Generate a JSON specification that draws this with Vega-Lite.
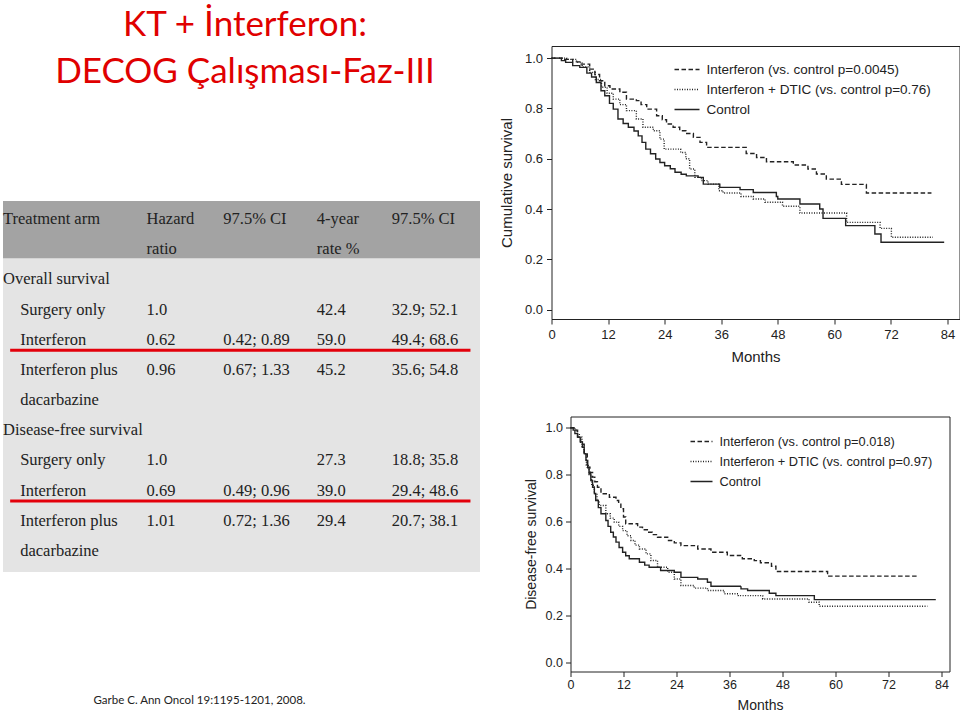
{
  "$schema": "https://vega.github.io/schema/vega-lite/v6.json",
  "background": "white",
  "padding": {"left": 3, "top": 7, "right": 0, "bottom": 0},
  "config": {"view": {"stroke": null}, "font": "Liberation Sans"},
  "title": {"text": ["KT + İnterferon:", "DECOG Çalışması-Faz-III"], "font": "Lato", "fontSize": 35, "fontWeight": "normal", "color": "#e00000", "lineHeight": 47, "anchor": "start", "align": "center", "dx": 242, "offset": -44},
  "datasets": {
    "table": [
      {"row": 0, "level": "header", "arm": "Treatment arm", "hr": "Hazard", "ci": "97.5% CI", "rate": "4-year", "ci2": "97.5% CI"},
      {"row": 1, "level": "header", "arm": "", "hr": "ratio", "ci": "", "rate": "rate %", "ci2": ""},
      {"row": 2, "level": "section", "arm": "Overall survival", "hr": "", "ci": "", "rate": "", "ci2": ""},
      {"row": 3, "level": "item", "arm": "Surgery only", "hr": "1.0", "ci": "", "rate": "42.4", "ci2": "32.9; 52.1"},
      {"row": 4, "level": "item", "arm": "Interferon", "hr": "0.62", "ci": "0.42; 0.89", "rate": "59.0", "ci2": "49.4; 68.6"},
      {"row": 5, "level": "item", "arm": "Interferon plus", "hr": "0.96", "ci": "0.67; 1.33", "rate": "45.2", "ci2": "35.6; 54.8"},
      {"row": 6, "level": "item", "arm": "dacarbazine", "hr": "", "ci": "", "rate": "", "ci2": ""},
      {"row": 7, "level": "section", "arm": "Disease-free survival", "hr": "", "ci": "", "rate": "", "ci2": ""},
      {"row": 8, "level": "item", "arm": "Surgery only", "hr": "1.0", "ci": "", "rate": "27.3", "ci2": "18.8; 35.8"},
      {"row": 9, "level": "item", "arm": "Interferon", "hr": "0.69", "ci": "0.49; 0.96", "rate": "39.0", "ci2": "29.4; 48.6"},
      {"row": 10, "level": "item", "arm": "Interferon plus", "hr": "1.01", "ci": "0.72; 1.36", "rate": "29.4", "ci2": "20.7; 38.1"},
      {"row": 11, "level": "item", "arm": "dacarbazine", "hr": "", "ci": "", "rate": "", "ci2": ""}
    ],
    "os": [
      {"arm": "Control", "month": 0, "surv": 1.0},
      {"arm": "Control", "month": 2.1, "surv": 0.99},
      {"arm": "Control", "month": 3.0, "surv": 0.983},
      {"arm": "Control", "month": 4.5, "surv": 0.97},
      {"arm": "Control", "month": 6.0, "surv": 0.963},
      {"arm": "Control", "month": 7.5, "surv": 0.94},
      {"arm": "Control", "month": 8.5, "surv": 0.925},
      {"arm": "Control", "month": 9.5, "surv": 0.903},
      {"arm": "Control", "month": 10.5, "surv": 0.87},
      {"arm": "Control", "month": 11.3, "surv": 0.85},
      {"arm": "Control", "month": 12.3, "surv": 0.82},
      {"arm": "Control", "month": 13.1, "surv": 0.797},
      {"arm": "Control", "month": 14.1, "surv": 0.758},
      {"arm": "Control", "month": 15.2, "surv": 0.74},
      {"arm": "Control", "month": 16.3, "surv": 0.725},
      {"arm": "Control", "month": 17.5, "surv": 0.71},
      {"arm": "Control", "month": 18.4, "surv": 0.691},
      {"arm": "Control", "month": 19.2, "surv": 0.665},
      {"arm": "Control", "month": 20.0, "surv": 0.638},
      {"arm": "Control", "month": 21.0, "surv": 0.62},
      {"arm": "Control", "month": 22.1, "surv": 0.599},
      {"arm": "Control", "month": 23.0, "surv": 0.585},
      {"arm": "Control", "month": 24.0, "surv": 0.572},
      {"arm": "Control", "month": 25.2, "surv": 0.56},
      {"arm": "Control", "month": 26.2, "surv": 0.546},
      {"arm": "Control", "month": 27.5, "surv": 0.538},
      {"arm": "Control", "month": 28.6, "surv": 0.532},
      {"arm": "Control", "month": 31.1, "surv": 0.526},
      {"arm": "Control", "month": 32.2, "surv": 0.499},
      {"arm": "Control", "month": 35.7, "surv": 0.486},
      {"arm": "Control", "month": 40.0, "surv": 0.477},
      {"arm": "Control", "month": 42.8, "surv": 0.466},
      {"arm": "Control", "month": 47.7, "surv": 0.45},
      {"arm": "Control", "month": 48.0, "surv": 0.44},
      {"arm": "Control", "month": 52.7, "surv": 0.42},
      {"arm": "Control", "month": 56.9, "surv": 0.40},
      {"arm": "Control", "month": 57.6, "surv": 0.363},
      {"arm": "Control", "month": 62.4, "surv": 0.334},
      {"arm": "Control", "month": 68.6, "surv": 0.301},
      {"arm": "Control", "month": 69.9, "surv": 0.268},
      {"arm": "Control", "month": 83.3, "surv": 0.268},
      {"arm": "Interferon", "month": 0, "surv": 1.0},
      {"arm": "Interferon", "month": 2.8, "surv": 0.995},
      {"arm": "Interferon", "month": 4.5, "surv": 0.985},
      {"arm": "Interferon", "month": 6.0, "surv": 0.976},
      {"arm": "Interferon", "month": 8.1, "surv": 0.956},
      {"arm": "Interferon", "month": 9.2, "surv": 0.935},
      {"arm": "Interferon", "month": 10.2, "surv": 0.91},
      {"arm": "Interferon", "month": 11.3, "surv": 0.89},
      {"arm": "Interferon", "month": 12.4, "surv": 0.877},
      {"arm": "Interferon", "month": 14.5, "surv": 0.864},
      {"arm": "Interferon", "month": 15.9, "surv": 0.837},
      {"arm": "Interferon", "month": 18.0, "surv": 0.831},
      {"arm": "Interferon", "month": 19.0, "surv": 0.815},
      {"arm": "Interferon", "month": 20.2, "surv": 0.797},
      {"arm": "Interferon", "month": 22.3, "surv": 0.771},
      {"arm": "Interferon", "month": 23.5, "surv": 0.755},
      {"arm": "Interferon", "month": 24.4, "surv": 0.738},
      {"arm": "Interferon", "month": 25.8, "surv": 0.725},
      {"arm": "Interferon", "month": 27.2, "surv": 0.711},
      {"arm": "Interferon", "month": 28.5, "surv": 0.70},
      {"arm": "Interferon", "month": 30.1, "surv": 0.685},
      {"arm": "Interferon", "month": 31.5, "surv": 0.665},
      {"arm": "Interferon", "month": 32.9, "surv": 0.645},
      {"arm": "Interferon", "month": 41.3, "surv": 0.621},
      {"arm": "Interferon", "month": 43.5, "surv": 0.605},
      {"arm": "Interferon", "month": 45.6, "surv": 0.588},
      {"arm": "Interferon", "month": 51.3, "surv": 0.575},
      {"arm": "Interferon", "month": 54.4, "surv": 0.559},
      {"arm": "Interferon", "month": 56.2, "surv": 0.539},
      {"arm": "Interferon", "month": 58.3, "surv": 0.519},
      {"arm": "Interferon", "month": 61.5, "surv": 0.498},
      {"arm": "Interferon", "month": 66.8, "surv": 0.464},
      {"arm": "Interferon", "month": 80.6, "surv": 0.464},
      {"arm": "Interferon + DTIC", "month": 0, "surv": 1.0},
      {"arm": "Interferon + DTIC", "month": 3.2, "surv": 0.995},
      {"arm": "Interferon + DTIC", "month": 5.3, "surv": 0.983},
      {"arm": "Interferon + DTIC", "month": 6.5, "surv": 0.965},
      {"arm": "Interferon + DTIC", "month": 8.1, "surv": 0.943},
      {"arm": "Interferon + DTIC", "month": 9.3, "surv": 0.915},
      {"arm": "Interferon + DTIC", "month": 10.6, "surv": 0.884},
      {"arm": "Interferon + DTIC", "month": 11.8, "surv": 0.86},
      {"arm": "Interferon + DTIC", "month": 13.1, "surv": 0.837},
      {"arm": "Interferon + DTIC", "month": 14.5, "surv": 0.815},
      {"arm": "Interferon + DTIC", "month": 15.9, "surv": 0.791},
      {"arm": "Interferon + DTIC", "month": 18.0, "surv": 0.758},
      {"arm": "Interferon + DTIC", "month": 19.4, "surv": 0.725},
      {"arm": "Interferon + DTIC", "month": 21.6, "surv": 0.711},
      {"arm": "Interferon + DTIC", "month": 23.0, "surv": 0.678},
      {"arm": "Interferon + DTIC", "month": 23.9, "surv": 0.638},
      {"arm": "Interferon + DTIC", "month": 27.4, "surv": 0.625},
      {"arm": "Interferon + DTIC", "month": 28.5, "surv": 0.60},
      {"arm": "Interferon + DTIC", "month": 29.3, "surv": 0.559},
      {"arm": "Interferon + DTIC", "month": 30.4, "surv": 0.526},
      {"arm": "Interferon + DTIC", "month": 31.8, "surv": 0.513},
      {"arm": "Interferon + DTIC", "month": 33.2, "surv": 0.499},
      {"arm": "Interferon + DTIC", "month": 35.5, "surv": 0.473},
      {"arm": "Interferon + DTIC", "month": 36.4, "surv": 0.464},
      {"arm": "Interferon + DTIC", "month": 40.2, "surv": 0.45},
      {"arm": "Interferon + DTIC", "month": 42.8, "surv": 0.44},
      {"arm": "Interferon + DTIC", "month": 45.3, "surv": 0.427},
      {"arm": "Interferon + DTIC", "month": 49.0, "surv": 0.411},
      {"arm": "Interferon + DTIC", "month": 52.7, "surv": 0.384},
      {"arm": "Interferon + DTIC", "month": 62.6, "surv": 0.347},
      {"arm": "Interferon + DTIC", "month": 69.7, "surv": 0.323},
      {"arm": "Interferon + DTIC", "month": 72.1, "surv": 0.288},
      {"arm": "Interferon + DTIC", "month": 80.9, "surv": 0.288}
    ],
    "dfs": [
      {"arm": "Control", "month": 0, "surv": 1.0},
      {"arm": "Control", "month": 0.6, "surv": 0.99},
      {"arm": "Control", "month": 1.0, "surv": 0.975},
      {"arm": "Control", "month": 1.6, "surv": 0.96},
      {"arm": "Control", "month": 2.2, "surv": 0.94},
      {"arm": "Control", "month": 2.7, "surv": 0.917},
      {"arm": "Control", "month": 3.1, "surv": 0.89},
      {"arm": "Control", "month": 3.5, "surv": 0.861},
      {"arm": "Control", "month": 3.9, "surv": 0.83},
      {"arm": "Control", "month": 4.2, "surv": 0.804},
      {"arm": "Control", "month": 4.6, "surv": 0.775},
      {"arm": "Control", "month": 5.0, "surv": 0.747},
      {"arm": "Control", "month": 5.4, "surv": 0.72},
      {"arm": "Control", "month": 5.7, "surv": 0.69},
      {"arm": "Control", "month": 6.3, "surv": 0.66},
      {"arm": "Control", "month": 6.9, "surv": 0.634},
      {"arm": "Control", "month": 8.0, "surv": 0.605},
      {"arm": "Control", "month": 8.5, "surv": 0.58},
      {"arm": "Control", "month": 9.1, "surv": 0.555},
      {"arm": "Control", "month": 9.7, "surv": 0.535},
      {"arm": "Control", "month": 10.3, "surv": 0.513},
      {"arm": "Control", "month": 11.0, "surv": 0.49},
      {"arm": "Control", "month": 11.8, "surv": 0.47},
      {"arm": "Control", "month": 12.5, "surv": 0.455},
      {"arm": "Control", "month": 13.3, "surv": 0.442},
      {"arm": "Control", "month": 15.6, "surv": 0.427},
      {"arm": "Control", "month": 16.8, "surv": 0.415},
      {"arm": "Control", "month": 17.8, "surv": 0.406},
      {"arm": "Control", "month": 20.4, "surv": 0.392},
      {"arm": "Control", "month": 23.5, "surv": 0.385},
      {"arm": "Control", "month": 25.0, "surv": 0.363},
      {"arm": "Control", "month": 28.8, "surv": 0.356},
      {"arm": "Control", "month": 31.0, "surv": 0.342},
      {"arm": "Control", "month": 31.8, "surv": 0.325},
      {"arm": "Control", "month": 38.6, "surv": 0.314},
      {"arm": "Control", "month": 40.1, "surv": 0.307},
      {"arm": "Control", "month": 45.0, "surv": 0.295},
      {"arm": "Control", "month": 46.5, "surv": 0.285},
      {"arm": "Control", "month": 55.2, "surv": 0.268},
      {"arm": "Control", "month": 82.7, "surv": 0.268},
      {"arm": "Interferon", "month": 0, "surv": 1.0},
      {"arm": "Interferon", "month": 0.8, "surv": 0.99},
      {"arm": "Interferon", "month": 1.6, "surv": 0.96},
      {"arm": "Interferon", "month": 2.3, "surv": 0.93},
      {"arm": "Interferon", "month": 3.1, "surv": 0.889},
      {"arm": "Interferon", "month": 3.8, "surv": 0.832},
      {"arm": "Interferon", "month": 4.4, "surv": 0.81},
      {"arm": "Interferon", "month": 5.0, "surv": 0.79},
      {"arm": "Interferon", "month": 5.5, "surv": 0.77},
      {"arm": "Interferon", "month": 6.1, "surv": 0.747},
      {"arm": "Interferon", "month": 6.9, "surv": 0.719},
      {"arm": "Interferon", "month": 8.8, "surv": 0.704},
      {"arm": "Interferon", "month": 10.3, "surv": 0.69},
      {"arm": "Interferon", "month": 10.9, "surv": 0.675},
      {"arm": "Interferon", "month": 11.4, "surv": 0.655},
      {"arm": "Interferon", "month": 12.0, "surv": 0.62},
      {"arm": "Interferon", "month": 12.5, "surv": 0.591},
      {"arm": "Interferon", "month": 15.2, "surv": 0.577},
      {"arm": "Interferon", "month": 16.3, "surv": 0.566},
      {"arm": "Interferon", "month": 17.4, "surv": 0.555},
      {"arm": "Interferon", "month": 18.5, "surv": 0.545},
      {"arm": "Interferon", "month": 19.7, "surv": 0.534},
      {"arm": "Interferon", "month": 22.0, "surv": 0.52},
      {"arm": "Interferon", "month": 23.5, "surv": 0.51},
      {"arm": "Interferon", "month": 25.0, "surv": 0.498},
      {"arm": "Interferon", "month": 28.8, "surv": 0.484},
      {"arm": "Interferon", "month": 31.8, "surv": 0.47},
      {"arm": "Interferon", "month": 35.5, "surv": 0.456},
      {"arm": "Interferon", "month": 38.9, "surv": 0.442},
      {"arm": "Interferon", "month": 41.6, "surv": 0.434},
      {"arm": "Interferon", "month": 43.0, "surv": 0.425},
      {"arm": "Interferon", "month": 45.5, "surv": 0.41},
      {"arm": "Interferon", "month": 46.5, "surv": 0.388},
      {"arm": "Interferon", "month": 58.2, "surv": 0.368},
      {"arm": "Interferon", "month": 78.6, "surv": 0.368},
      {"arm": "Interferon + DTIC", "month": 0, "surv": 1.0},
      {"arm": "Interferon + DTIC", "month": 1.0, "surv": 0.99},
      {"arm": "Interferon + DTIC", "month": 1.5, "surv": 0.975},
      {"arm": "Interferon + DTIC", "month": 2.0, "surv": 0.96},
      {"arm": "Interferon + DTIC", "month": 2.6, "surv": 0.92},
      {"arm": "Interferon + DTIC", "month": 3.1, "surv": 0.889},
      {"arm": "Interferon + DTIC", "month": 3.6, "surv": 0.84},
      {"arm": "Interferon + DTIC", "month": 4.2, "surv": 0.797},
      {"arm": "Interferon + DTIC", "month": 4.8, "surv": 0.755},
      {"arm": "Interferon + DTIC", "month": 5.4, "surv": 0.719},
      {"arm": "Interferon + DTIC", "month": 6.0, "surv": 0.69},
      {"arm": "Interferon + DTIC", "month": 6.5, "surv": 0.669},
      {"arm": "Interferon + DTIC", "month": 8.0, "surv": 0.634},
      {"arm": "Interferon + DTIC", "month": 9.0, "surv": 0.615},
      {"arm": "Interferon + DTIC", "month": 9.9, "surv": 0.598},
      {"arm": "Interferon + DTIC", "month": 10.9, "surv": 0.58},
      {"arm": "Interferon + DTIC", "month": 11.8, "surv": 0.562},
      {"arm": "Interferon + DTIC", "month": 12.8, "surv": 0.54},
      {"arm": "Interferon + DTIC", "month": 13.7, "surv": 0.52},
      {"arm": "Interferon + DTIC", "month": 14.6, "surv": 0.5},
      {"arm": "Interferon + DTIC", "month": 15.6, "surv": 0.484},
      {"arm": "Interferon + DTIC", "month": 17.1, "surv": 0.463},
      {"arm": "Interferon + DTIC", "month": 18.2, "surv": 0.435},
      {"arm": "Interferon + DTIC", "month": 19.7, "surv": 0.406},
      {"arm": "Interferon + DTIC", "month": 22.0, "surv": 0.385},
      {"arm": "Interferon + DTIC", "month": 23.5, "surv": 0.356},
      {"arm": "Interferon + DTIC", "month": 25.0, "surv": 0.328},
      {"arm": "Interferon + DTIC", "month": 28.0, "surv": 0.317},
      {"arm": "Interferon + DTIC", "month": 31.0, "surv": 0.307},
      {"arm": "Interferon + DTIC", "month": 34.8, "surv": 0.293},
      {"arm": "Interferon + DTIC", "month": 38.0, "surv": 0.285},
      {"arm": "Interferon + DTIC", "month": 43.5, "surv": 0.271},
      {"arm": "Interferon + DTIC", "month": 54.0, "surv": 0.257},
      {"arm": "Interferon + DTIC", "month": 56.3, "surv": 0.24},
      {"arm": "Interferon + DTIC", "month": 80.8, "surv": 0.24}
    ]
  },
  "resolve": {"scale": {"x": "independent", "y": "independent", "strokeDash": "independent"}, "legend": {"strokeDash": "independent"}},
  "spacing": 18.5,
  "hconcat": [
    {
      "resolve": {"scale": {"x": "independent", "y": "independent", "strokeDash": "independent"}, "legend": {"strokeDash": "independent"}},
      "spacing": 20,
      "vconcat": [
        {"width": 1, "height": 135, "data": {"values": []}, "mark": "point"},
        {
          "width": 477,
          "height": 371,
          "view": {"fill": "#e4e4e4", "stroke": null},
          "data": {"name": "table"},
          "layer": [
            {
              "data": {"values": [{}]},
              "mark": {"type": "rect", "color": "#a3a3a3"},
              "encoding": {
                "x": {"datum": 0, "type": "quantitative", "scale": {"domain": [0, 100], "nice": false, "zero": false},
                  "axis": {"title": "Garbe C. Ann Oncol 19:1195-1201, 2008.", "labels": false, "ticks": false, "domain": false, "grid": false, "titleFont": "Lato", "titleFontSize": 11.5, "titleFontWeight": "normal", "titleColor": "#222222", "titleX": 90, "titleY": 128, "titleAlign": "left", "titleBaseline": "middle"}},
                "x2": {"datum": 100},
                "y": {"datum": -0.6, "type": "quantitative", "scale": {"domain": [-0.6, 11.7], "reverse": true, "nice": false, "zero": false}, "axis": null},
                "y2": {"datum": 1.3}
              }
            },
            {
              "transform": [{"filter": "datum.level != 'item'"}],
              "mark": {"type": "text", "font": "Liberation Serif", "fontSize": 16.5, "align": "left", "baseline": "middle", "color": "#222222"},
              "encoding": {"x": {"datum": 0, "type": "quantitative"}, "y": {"field": "row", "type": "quantitative"}, "text": {"field": "arm"}}
            },
            {
              "transform": [{"filter": "datum.level == 'item'"}],
              "mark": {"type": "text", "font": "Liberation Serif", "fontSize": 16.5, "align": "left", "baseline": "middle", "color": "#222222"},
              "encoding": {"x": {"datum": 3.6, "type": "quantitative"}, "y": {"field": "row", "type": "quantitative"}, "text": {"field": "arm"}}
            },
            {
              "mark": {"type": "text", "font": "Liberation Serif", "fontSize": 16.5, "align": "left", "baseline": "middle", "color": "#222222"},
              "encoding": {"x": {"datum": 30.1, "type": "quantitative"}, "y": {"field": "row", "type": "quantitative"}, "text": {"field": "hr"}}
            },
            {
              "mark": {"type": "text", "font": "Liberation Serif", "fontSize": 16.5, "align": "left", "baseline": "middle", "color": "#222222"},
              "encoding": {"x": {"datum": 46.2, "type": "quantitative"}, "y": {"field": "row", "type": "quantitative"}, "text": {"field": "ci"}}
            },
            {
              "mark": {"type": "text", "font": "Liberation Serif", "fontSize": 16.5, "align": "left", "baseline": "middle", "color": "#222222"},
              "encoding": {"x": {"datum": 65.8, "type": "quantitative"}, "y": {"field": "row", "type": "quantitative"}, "text": {"field": "rate"}}
            },
            {
              "mark": {"type": "text", "font": "Liberation Serif", "fontSize": 16.5, "align": "left", "baseline": "middle", "color": "#222222"},
              "encoding": {"x": {"datum": 81.5, "type": "quantitative"}, "y": {"field": "row", "type": "quantitative"}, "text": {"field": "ci2"}}
            },
            {
              "transform": [{"filter": "datum.arm == 'Interferon'"}],
              "mark": {"type": "rule", "color": "#e3000b", "strokeWidth": 3, "yOffset": 10.5},
              "encoding": {"x": {"datum": 1.5, "type": "quantitative"}, "x2": {"datum": 98}, "y": {"field": "row", "type": "quantitative"}}
            }
          ]
        }
      ]
    },
    {
      "resolve": {"scale": {"x": "independent", "y": "independent", "strokeDash": "independent"}, "legend": {"strokeDash": "independent"}},
      "spacing": 50.5,
      "vconcat": [
        {
          "width": 408,
          "height": 273,
          "view": {"stroke": "#222222", "strokeWidth": 1},
          "data": {"name": "os"},
          "mark": {"type": "line", "interpolate": "step-after", "color": "#222222", "strokeWidth": 1.4},
          "encoding": {
            "x": {"field": "month", "type": "quantitative", "scale": {"domain": [0, 86.55], "nice": false, "zero": false},
              "axis": {"title": "Months", "values": [0, 12, 24, 36, 48, 60, 72, 84], "grid": false, "domain": false, "tickSize": 5, "tickColor": "#222222", "labelFont": "Liberation Sans", "labelFontSize": 13, "labelColor": "#222222", "labelPadding": 4, "labelFlush": false, "labelOverlap": false, "titleFont": "Liberation Sans", "titleFontSize": 15, "titleFontWeight": "normal", "titleColor": "#222222", "titlePadding": 8.5}},
            "y": {"field": "surv", "type": "quantitative", "scale": {"domain": [-0.037, 1.048], "nice": false, "zero": false},
              "axis": {"title": "Cumulative survival", "values": [0, 0.2, 0.4, 0.6, 0.8, 1], "format": ".1f", "grid": false, "domain": false, "tickSize": 5, "tickColor": "#222222", "labelFont": "Liberation Sans", "labelFontSize": 13, "labelColor": "#222222", "labelPadding": 4, "labelFlush": false, "labelOverlap": false, "titleFont": "Liberation Sans", "titleFontSize": 15, "titleFontWeight": "normal", "titleColor": "#222222", "titlePadding": 9.5}},
            "strokeDash": {"field": "arm", "type": "nominal",
              "scale": {"domain": ["Interferon", "Interferon + DTIC", "Control"], "range": [[4.5, 2.5], [1, 1.5], [1, 0]]},
              "legend": {"title": null, "orient": "none", "legendX": 122, "legendY": 10, "padding": 0, "symbolType": "stroke", "symbolSize": 625, "symbolStrokeWidth": 1.4, "symbolStrokeColor": "#222222", "labelFont": "Liberation Sans", "labelFontSize": 13.5, "labelColor": "#222222", "labelOffset": 6, "rowPadding": -1.5, "labelLimit": 400,
                "labelExpr": "datum.label == 'Interferon' ? 'Interferon (vs. control p=0.0045)' : datum.label == 'Interferon + DTIC' ? 'Interferon + DTIC (vs. control p=0.76)' : 'Control'"}}
          }
        },
        {
          "resolve": {"scale": {"x": "independent", "y": "independent", "strokeDash": "independent"}, "legend": {"strokeDash": "independent"}},
          "spacing": -29,
          "hconcat": [
            {"width": 1, "height": 1, "data": {"values": []}, "mark": "point"},
            {
              "width": 379,
              "height": 255,
              "view": {"stroke": "#222222", "strokeWidth": 1},
              "data": {"name": "dfs"},
              "mark": {"type": "line", "interpolate": "step-after", "color": "#222222", "strokeWidth": 1.4},
              "encoding": {
                "x": {"field": "month", "type": "quantitative", "scale": {"domain": [0, 85.8], "nice": false, "zero": false},
                  "axis": {"title": "Months", "values": [0, 12, 24, 36, 48, 60, 72, 84], "grid": false, "domain": false, "tickSize": 5, "tickColor": "#222222", "labelFont": "Liberation Sans", "labelFontSize": 12.5, "labelColor": "#222222", "labelPadding": 1.5, "labelFlush": false, "labelOverlap": false, "titleFont": "Liberation Sans", "titleFontSize": 14, "titleFontWeight": "normal", "titleColor": "#222222", "titlePadding": 8}},
                "y": {"field": "surv", "type": "quantitative", "scale": {"domain": [-0.038, 1.048], "nice": false, "zero": false},
                  "axis": {"title": "Disease-free survival", "values": [0, 0.2, 0.4, 0.6, 0.8, 1], "format": ".1f", "grid": false, "domain": false, "tickSize": 5, "tickColor": "#222222", "labelFont": "Liberation Sans", "labelFontSize": 12.5, "labelColor": "#222222", "labelPadding": 3, "labelFlush": false, "labelOverlap": false, "titleFont": "Liberation Sans", "titleFontSize": 14, "titleFontWeight": "normal", "titleColor": "#222222", "titlePadding": 6.6}},
                "strokeDash": {"field": "arm", "type": "nominal",
                  "scale": {"domain": ["Interferon", "Interferon + DTIC", "Control"], "range": [[4.5, 2.5], [1, 1.5], [1, 0]]},
                  "legend": {"title": null, "orient": "none", "legendX": 119, "legendY": 13, "padding": 0, "symbolType": "stroke", "symbolSize": 484, "symbolStrokeWidth": 1.4, "symbolStrokeColor": "#222222", "labelFont": "Liberation Sans", "labelFontSize": 12.8, "labelColor": "#222222", "labelOffset": 6, "rowPadding": 1, "labelLimit": 400,
                    "labelExpr": "datum.label == 'Interferon' ? 'Interferon (vs. control p=0.018)' : datum.label == 'Interferon + DTIC' ? 'Interferon + DTIC (vs. control p=0.97)' : 'Control'"}}
              }
            }
          ]
        }
      ]
    }
  ]
}
